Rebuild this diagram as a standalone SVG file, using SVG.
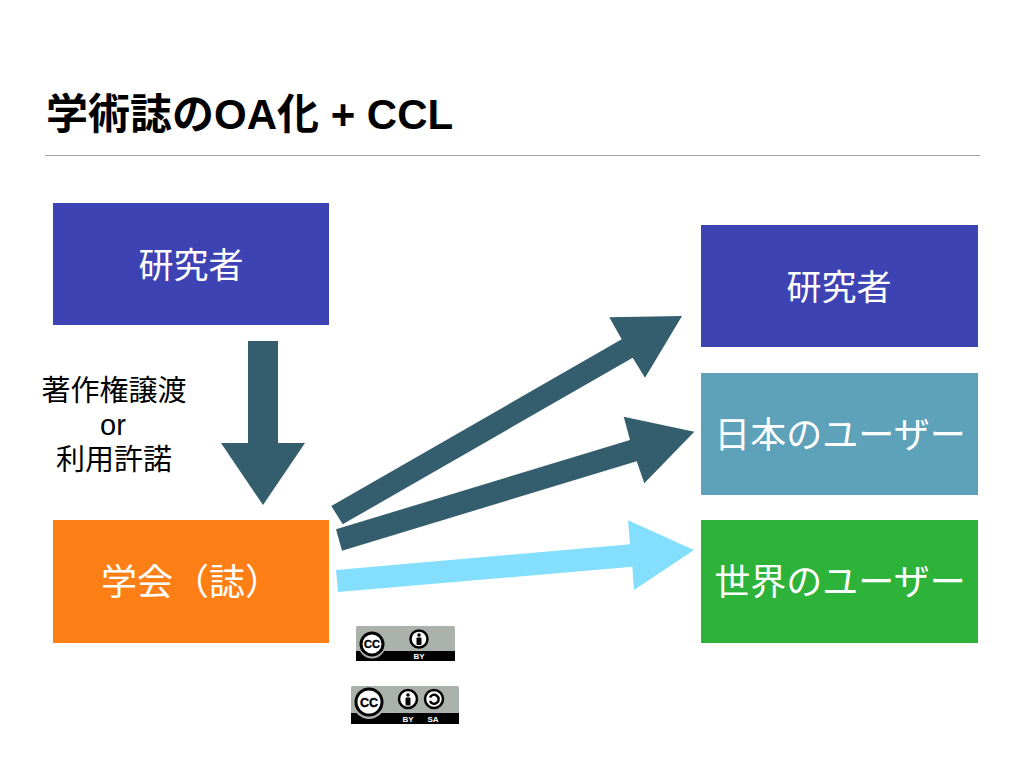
<svg xmlns="http://www.w3.org/2000/svg" width="1024" height="769" viewBox="0 0 1024 769">
<style>
text{font-family:"Liberation Sans","Noto Sans CJK JP",sans-serif}
.t{font-size:36px;fill:#fff;text-anchor:middle}
.r{font-size:35px}
.l{font-size:29px;fill:#000;text-anchor:middle}
.d{fill:#345e6d}
.cc{font-weight:bold;text-anchor:middle;fill:#000;stroke:#000;stroke-width:.4}
.b{font-size:8px;font-weight:bold;text-anchor:middle;fill:#fff}
.g{fill:#aab2ab}
.k{fill:#000}
.w{fill:#fff;stroke:#000}
</style>
<rect width="1024" height="769" fill="#fff"/>
<g id="title"><text x="46" y="128.500" font-size="42" font-weight="bold" fill="#000">学術誌のOA化 + CCL</text></g>
<rect id="rule" x="45" y="155" width="935" height="1" fill="#a0a0a0"/>
<g id="n-researcher-left"><rect x="53" y="203" width="276" height="122" fill="#3e43b4"/><text class="t r" x="191" y="278">研究者</text></g>
<g id="n-society"><rect x="53" y="520" width="276" height="123" fill="#ff7f17"/><text class="t" x="191" y="595">学会（誌）</text></g>
<g id="n-researcher-right"><rect x="701" y="225" width="277" height="122" fill="#3e43b4"/><text class="t r" x="839" y="300">研究者</text></g>
<g id="n-jp-users"><rect x="701" y="373" width="277" height="122" fill="#5ea2ba"/><text class="t" x="840" y="448">日本のユーザー</text></g>
<g id="n-world-users"><rect x="701" y="520" width="277" height="123" fill="#2db33a"/><text class="t" x="840" y="595">世界のユーザー</text></g>
<g id="label"><text class="l" x="114" y="400.500">著作権譲渡</text><text class="l" x="113" y="435">or</text><text class="l" x="114" y="469.500">利用許諾</text></g>
<g id="connectors">
<polygon class="d" points="248,341 278,341 278,443 305,443 263,505 221,443 248,443"/>
<polygon class="d" points="331.3,506 621.7,339.3 609.3,317.3 682,316 645,377.7 632.7,357.7 342.7,524.3"/>
<polygon class="d" points="336,529.3 630,440 623.7,416.7 694.3,431.7 644.3,483.3 636.7,461.3 342,550.7"/>
<polygon fill="#84dffe" points="336,570 630,544.3 628,520.3 694,550 634,590 632.3,566.7 338,592"/>
</g>
<g id="badge-by">
<rect class="g" x="356" y="626" width="99" height="35" rx="1.500"/>
<rect class="k" x="356" y="651" width="99" height="10"/>
<circle cx="372" cy="645" r="13.500" fill="#aab2ab"/>
<circle class="w" cx="372" cy="644" r="11" stroke-width="3"/>
<text class="cc" x="372" y="648" font-size="11">CC</text>
<circle class="w" cx="419" cy="639" r="8.500" stroke-width="2.500"/>
<circle class="k" cx="419" cy="635" r="1.800"/>
<rect class="k" x="416.500" y="637.500" width="5" height="7.500" rx="1"/>
<text class="b" x="419" y="659">BY</text>
</g>
<g id="badge-by-sa">
<rect class="g" x="351" y="686" width="108" height="38" rx="1.500"/>
<rect class="k" x="351" y="713" width="108" height="11"/>
<circle cx="369" cy="703" r="16" fill="#aab2ab"/>
<circle class="w" cx="369" cy="702" r="13" stroke-width="3"/>
<text class="cc" x="369" y="706.500" font-size="12.500">CC</text>
<circle class="w" cx="408" cy="699" r="9" stroke-width="2.500"/>
<circle class="k" cx="408" cy="695" r="1.800"/>
<rect class="k" x="405.500" y="697.500" width="5" height="8" rx="1"/>
<circle class="w" cx="434" cy="699" r="9" stroke-width="2.500"/>
<path d="M430 697.500A4.500 4.500 0 1 1 430 701" fill="none" stroke="#000" stroke-width="2.500"/>
<text class="b" x="408" y="722">BY</text>
<text class="b" x="433" y="722">SA</text>
</g>
</svg>
